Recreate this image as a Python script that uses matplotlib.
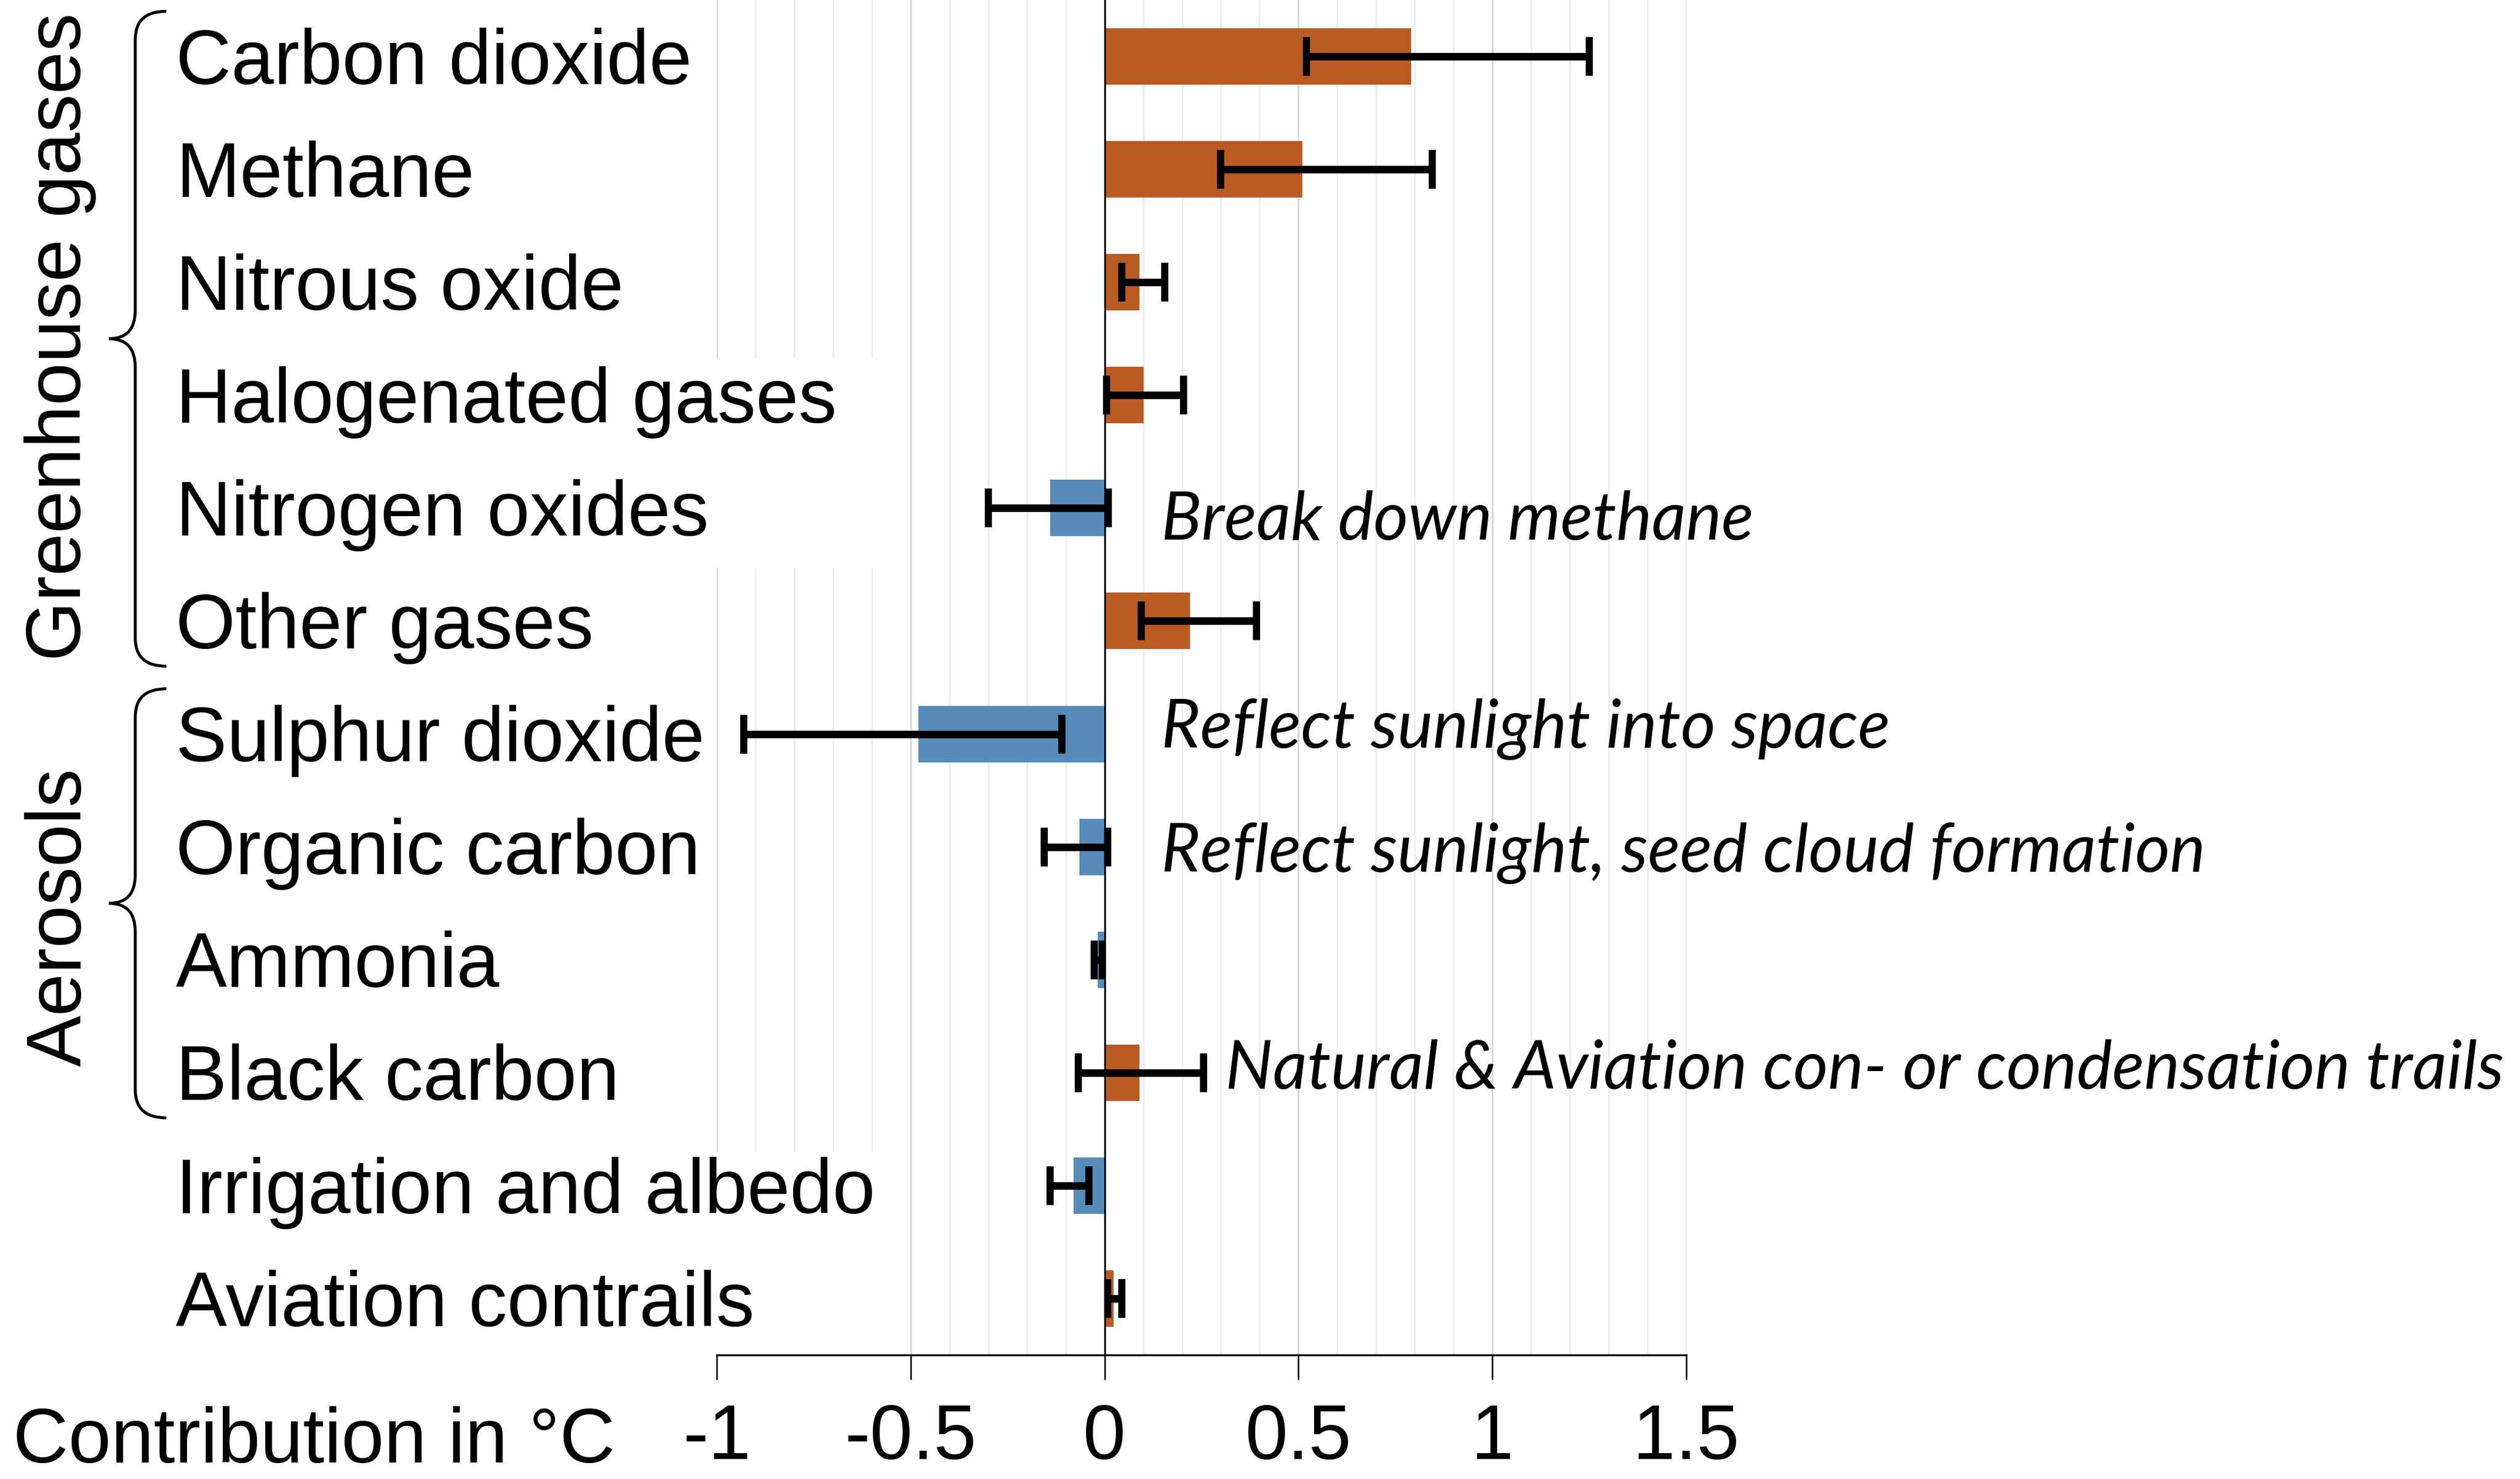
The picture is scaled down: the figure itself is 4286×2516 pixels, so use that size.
import numpy as np
import matplotlib
matplotlib.use("Agg")
import matplotlib.pyplot as plt
import matplotlib.transforms as mtransforms
from matplotlib.path import Path
from matplotlib.patches import PathPatch, Rectangle

# ---------------- data ----------------
categories = ["Carbon dioxide", "Methane", "Nitrous oxide", "Halogenated gases",
              "Nitrogen oxides", "Other gases", "Sulphur dioxide", "Organic carbon",
              "Ammonia", "Black carbon", "Irrigation and albedo", "Aviation contrails"]
values = [0.79, 0.51, 0.09, 0.10, -0.14, 0.22, -0.48, -0.065, -0.017, 0.09, -0.08, 0.023]
err_low = [0.52, 0.30, 0.044, 0.005, -0.30, 0.094, -0.93, -0.155, -0.026, -0.067, -0.14, 0.008]
err_high = [1.25, 0.845, 0.155, 0.204, 0.009, 0.392, -0.11, 0.008, -0.006, 0.256, -0.04, 0.045]
group_names = ["Greenhouse gases", "Aerosols"]
group_first = [0, 6]
group_last = [5, 9]
annot_rows = [4, 6, 7, 9]
annot_texts = ["Break down methane", "Reflect sunlight into space",
               "Reflect sunlight, seed cloud formation",
               "Natural & Aviation con- or condensation trails"]
xticks = [-1, -0.5, 0, 0.5, 1, 1.5]
xtick_labels = ["-1", "-0.5", "0", "0.5", "1", "1.5"]
xlabel = "Contribution in °C"

# ---------------- style ----------------
ORANGE = "#BA5B24"
BLUE = "#568BBA"
W, H = 4286, 2516
DPI = 200
plt.rcParams["font.family"] = ["Liberation Sans", "DejaVu Sans"]
FS = 47

fig = plt.figure(figsize=(W / DPI, H / DPI), dpi=DPI)
ax = fig.add_axes([1219 / W, 211 / H, (2868 - 1219) / W, 1 - 211 / H])

y = np.arange(len(categories))
vals = np.array(values)
lo = np.array(err_low)
hi = np.array(err_high)
colors = [ORANGE if v >= 0 else BLUE for v in vals]

ax.barh(y, vals, height=0.5, color=colors, zorder=2)
ax.errorbar(vals, y, xerr=[vals - lo, hi - vals], fmt="none", ecolor="black",
            elinewidth=4.6, capsize=12, capthick=4.4, zorder=4)
ax.axvline(0, color="black", lw=1.1, zorder=3)

ax.set_xlim(-1, 1.5)
ax.set_ylim(len(categories) - 0.5, -0.5)
ax.set_xticks(xticks)
ax.set_xticklabels(xtick_labels, fontsize=FS)
ax.set_xticks(np.round(np.arange(-1, 1.501, 0.1), 2), minor=True)
ax.set_yticks([])
ax.set_axisbelow(True)
ax.grid(which="major", axis="x", color="#d6d6d6", lw=1.0)
ax.grid(which="minor", axis="x", color="#ebebeb", lw=0.9)
ax.tick_params(axis="x", which="major", length=15, width=0.9, pad=14, direction="out")
ax.tick_params(axis="x", which="minor", length=0)
for s in ["left", "right", "top"]:
    ax.spines[s].set_visible(False)
ax.spines["bottom"].set_linewidth(1.2)

# white boxes behind long labels hiding gridlines
for (y0, y1) in [(2.67, 4.53), (9.70, 11.5)]:
    ax.add_patch(Rectangle((-1.05, y0), 0.5, y1 - y0, facecolor="white",
                           edgecolor="none", zorder=0.9, clip_on=False))

blend = mtransforms.blended_transform_factory(fig.transFigure, ax.transData)

# category labels
for i, name in enumerate(categories):
    ax.text(299 / W, i + 0.243, name, transform=blend, fontsize=FS,
            ha="left", va="baseline", clip_on=False)

# braces and group labels
group_label_y = [2.48, 7.62]
for gi, gname in enumerate(group_names):
    y0 = group_first[gi] - 0.40
    y1 = group_last[gi] + 0.40
    yc = (group_first[gi] + group_last[gi]) / 2
    xe, xm, xt = 283 / W, 230 / W, 185 / W
    r = 0.25
    verts = [(xe, y0), (xm, y0), (xm, y0 + r), (xm, yc - r), (xm, yc), (xt, yc),
             (xm, yc), (xm, yc + r), (xm, y1 - r), (xm, y1), (xe, y1)]
    codes = [Path.MOVETO, Path.CURVE3, Path.CURVE3, Path.LINETO, Path.CURVE3, Path.CURVE3,
             Path.CURVE3, Path.CURVE3, Path.LINETO, Path.CURVE3, Path.CURVE3]
    fig.add_artist(PathPatch(Path(verts, codes), transform=blend, facecolor="none",
                             edgecolor="black", lw=1.8, clip_on=False))
    ax.text(103 / W, group_label_y[gi], gname, transform=blend, fontsize=FS,
            rotation=90, ha="center", va="center", clip_on=False)

# annotations
annot_x = [0.146, 0.146, 0.146, 0.311]
annot_y = [4.28, 6.12, 7.22, 9.14]
for k, txt in enumerate(annot_texts):
    ax.text(annot_x[k], annot_y[k], txt, fontsize=41, style="italic",
            family=["Lato", "DejaVu Sans"], ha="left", va="baseline", clip_on=False, zorder=5)

# x label on the tick-label baseline
fig.text(22 / W, 28 / H, xlabel, fontsize=FS, ha="left", va="baseline")

fig.savefig("out.png", dpi=DPI)
